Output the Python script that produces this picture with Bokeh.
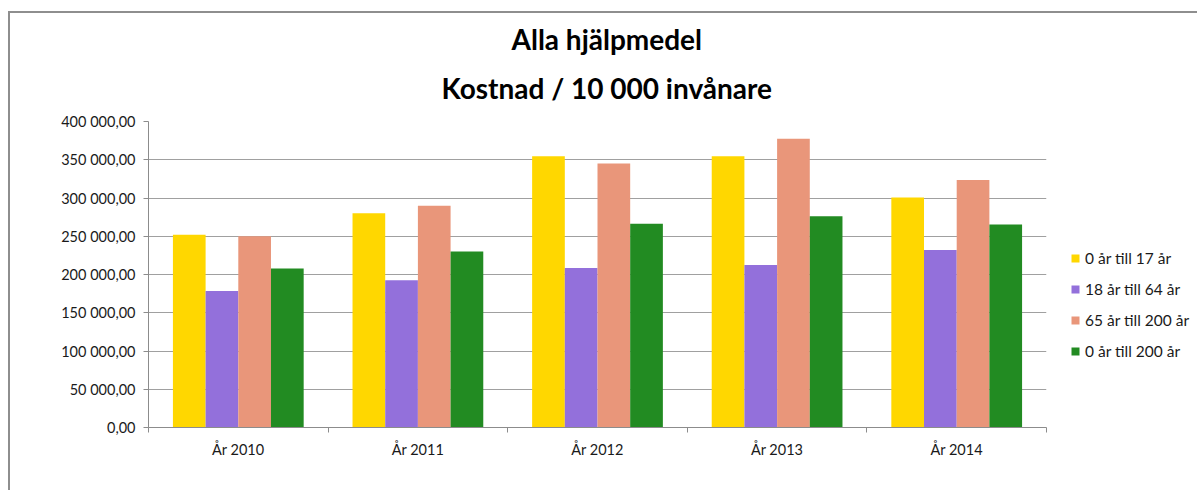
from bokeh.plotting import figure
from bokeh.models import (FixedTicker, Legend, LegendItem, Title, ColumnDataSource)
from bokeh.embed import file_html
from bokeh.resources import INLINE

# ---- data ----
years = ["År 2010", "År 2011", "År 2012", "År 2013", "År 2014"]
series_names = ["0 år till 17 år", "18 år till 64 år", "65 år till 200 år", "0 år till 200 år"]
age_0_17 = [252000, 280000, 354500, 354500, 300500]
age_18_64 = [178500, 192500, 208500, 212500, 232000]
age_65_200 = [250000, 290000, 345000, 377500, 323500]
age_0_200 = [208000, 230000, 266500, 276000, 265500]
y_ticks = [0, 50000, 100000, 150000, 200000, 250000, 300000, 350000, 400000]
y_tick_labels = ["0,00", "50 000,00", "100 000,00", "150 000,00", "200 000,00",
                 "250 000,00", "300 000,00", "350 000,00", "400 000,00"]
title_lines = ["Alla hjälpmedel", "Kostnad / 10 000 invånare"]

colors = ["#FFD700", "#9370DB", "#E9967A", "#228B22"]
series = [age_0_17, age_18_64, age_65_200, age_0_200]

FONT = "Lato"

p = figure(frame_width=898, frame_height=306,
           min_border_left=138, min_border_right=149,
           min_border_top=108, min_border_bottom=63,
           x_range=(0, len(years)), y_range=(0, 400000),
           output_backend="svg", toolbar_location=None, tools="")
p.margin = (11, 0, 0, 8)
p.styles = {"border-top": "2px solid #8e8e8e", "border-left": "2px solid #8e8e8e"}

bar_w = 0.182
items = []
for k, (vals, name, col) in enumerate(zip(series, series_names, colors)):
    xs = [i + 0.5 + (k - 1.5) * bar_w for i in range(len(years))]
    src = ColumnDataSource(dict(x=xs, top=vals))
    r = p.vbar(x="x", top="top", width=bar_w, bottom=0, source=src,
               fill_color=col, line_color=None)
    items.append(LegendItem(label=name, renderers=[r]))

# axes
p.outline_line_color = None
p.xgrid.visible = False
p.ygrid.grid_line_color = "#a0a0a0"
p.ygrid.grid_line_width = 1
p.ygrid.ticker = FixedTicker(ticks=y_ticks)

p.yaxis.ticker = FixedTicker(ticks=y_ticks)
p.yaxis.major_label_overrides = {t: s for t, s in zip(y_ticks, y_tick_labels)}
p.yaxis.axis_line_color = "#8c8c8c"
p.yaxis.major_tick_line_color = "#8c8c8c"
p.yaxis.major_tick_out = 5
p.yaxis.major_tick_in = 0
p.yaxis.minor_tick_line_color = None
p.yaxis.major_label_standoff = 8
p.yaxis.major_label_text_font = FONT
p.yaxis.major_label_text_font_size = "14.5px"
p.yaxis.major_label_text_color = "#1a1a1a"

centers = [i + 0.5 for i in range(len(years))]
p.xaxis.ticker = FixedTicker(ticks=centers, minor_ticks=list(range(len(years) + 1)))
p.xaxis.major_label_overrides = {c: y for c, y in zip(centers, years)}
p.xaxis.axis_line_color = "#8c8c8c"
p.xaxis.major_tick_out = 0
p.xaxis.major_tick_in = 0
p.xaxis.minor_tick_line_color = "#8c8c8c"
p.xaxis.minor_tick_out = 5
p.xaxis.minor_tick_in = 0
p.xaxis.major_label_standoff = 8
p.xaxis.major_label_text_font = FONT
p.xaxis.major_label_text_font_size = "14.5px"
p.xaxis.major_label_text_color = "#1a1a1a"

# title (two lines): the line nearest the frame is added first
for txt, so, off in [(title_lines[1], 33, 293), (title_lines[0], -7, 363)]:
    p.add_layout(Title(text=txt, align="left", offset=off, standoff=so,
                       text_font=FONT, text_font_style="bold",
                       text_font_size="28px", text_color="#000000"), "above")

legend = Legend(items=items, location=(24, 66), orientation="vertical",
                glyph_width=10, glyph_height=10, label_height=20, spacing=11,
                label_standoff=5, padding=0, margin=0,
                border_line_color=None, background_fill_alpha=0,
                label_text_font=FONT, label_text_font_size="15.5px",
                label_text_color="#1a1a1a")
p.add_layout(legend, "right")

open("out.html", "w").write(file_html(p, INLINE))
